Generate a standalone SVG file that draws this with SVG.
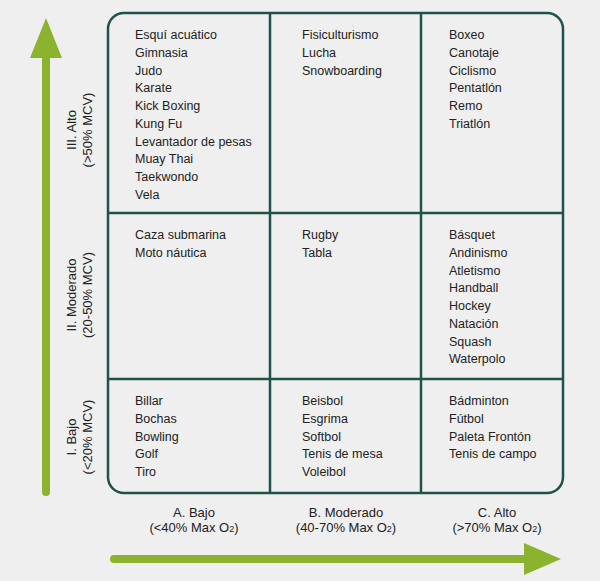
<svg xmlns="http://www.w3.org/2000/svg" width="600" height="581" viewBox="0 0 600 581">
<style>
text{font-family:"Liberation Sans",Arial,sans-serif;font-size:12.5px;fill:#222}
.ax{text-anchor:middle;font-size:13px}
.g{stroke:#1f5249;stroke-width:2.5;fill:none}
</style>
<rect width="600" height="581" fill="#efefef"/>
<g id="axes">
<rect x="42" y="55" width="8" height="441" rx="4" fill="#8cb32d"/>
<polygon points="30,58 62,58 46,18" fill="#8cb32d"/>
<rect x="110" y="555" width="420" height="8" rx="4" fill="#8cb32d"/>
<polygon points="524,543 524,575 561,559" fill="#8cb32d"/>
</g>
<g id="grid">
<rect class="g" x="108" y="13" width="455" height="480" rx="16"/>
<line class="g" x1="270" y1="13" x2="270" y2="493"/>
<line class="g" x1="421" y1="13" x2="421" y2="493"/>
<line class="g" x1="108" y1="213" x2="563" y2="213"/>
<line class="g" x1="108" y1="379" x2="563" y2="379"/>
</g>
<g id="ylabels" class="ax">
<text class="ax" transform="translate(76,130) rotate(-90)">III. Alto</text>
<text class="ax" transform="translate(92,130) rotate(-90)">(&gt;50% MCV)</text>
<text class="ax" transform="translate(76,295) rotate(-90)">II. Moderado</text>
<text class="ax" transform="translate(92,295) rotate(-90)">(20-50% MCV)</text>
<text class="ax" transform="translate(76,437) rotate(-90)">I. Bajo</text>
<text class="ax" transform="translate(92,437) rotate(-90)">(&lt;20% MCV)</text>
</g>
<g id="xlabels">
<text class="ax" x="194" y="517">A. Bajo</text>
<text class="ax" x="194" y="532">(&lt;40% Max O<tspan font-size="9">2</tspan>)</text>
<text class="ax" x="346" y="517">B. Moderado</text>
<text class="ax" x="346" y="532">(40-70% Max O<tspan font-size="9">2</tspan>)</text>
<text class="ax" x="497" y="517">C. Alto</text>
<text class="ax" x="497" y="532">(&gt;70% Max O<tspan font-size="9">2</tspan>)</text>
</g>
<g id="c1">
<text x="135" y="39">Esquí acuático</text><text x="135" y="57">Gimnasia</text><text x="135" y="75">Judo</text><text x="135" y="92">Karate</text><text x="135" y="110">Kick Boxing</text><text x="135" y="128">Kung Fu</text><text x="135" y="146">Levantador de pesas</text><text x="135" y="163">Muay Thai</text><text x="135" y="181">Taekwondo</text><text x="135" y="199">Vela</text>
</g>
<g id="c2">
<text x="302" y="39">Fisiculturismo</text><text x="302" y="57">Lucha</text><text x="302" y="75">Snowboarding</text>
</g>
<g id="c3">
<text x="449" y="39">Boxeo</text><text x="449" y="57">Canotaje</text><text x="449" y="75">Ciclismo</text><text x="449" y="92">Pentatlón</text><text x="449" y="110">Remo</text><text x="449" y="128">Triatlón</text>
</g>
<g id="c4">
<text x="135" y="239">Caza submarina</text><text x="135" y="257">Moto náutica</text>
</g>
<g id="c5">
<text x="302" y="239">Rugby</text><text x="302" y="257">Tabla</text>
</g>
<g id="c6">
<text x="449" y="239">Básquet</text><text x="449" y="257">Andinismo</text><text x="449" y="275">Atletismo</text><text x="449" y="292">Handball</text><text x="449" y="310">Hockey</text><text x="449" y="328">Natación</text><text x="449" y="346">Squash</text><text x="449" y="363">Waterpolo</text>
</g>
<g id="c7">
<text x="135" y="405">Billar</text><text x="135" y="423">Bochas</text><text x="135" y="441">Bowling</text><text x="135" y="458">Golf</text><text x="135" y="476">Tiro</text>
</g>
<g id="c8">
<text x="302" y="405">Beisbol</text><text x="302" y="423">Esgrima</text><text x="302" y="441">Softbol</text><text x="302" y="458">Tenis de mesa</text><text x="302" y="476">Voleibol</text>
</g>
<g id="c9">
<text x="449" y="405">Bádminton</text><text x="449" y="423">Fútbol</text><text x="449" y="441">Paleta Frontón</text><text x="449" y="458">Tenis de campo</text>
</g>
</svg>
